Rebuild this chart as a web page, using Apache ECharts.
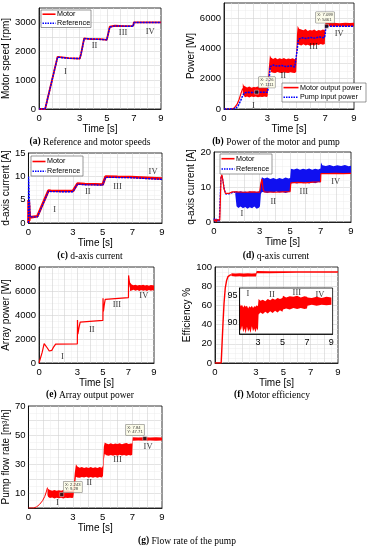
<!DOCTYPE html>
<html><head><meta charset="utf-8">
<script src="https://cdn.jsdelivr.net/npm/echarts@6/dist/echarts.min.js"></script>
<style>html,body{margin:0;padding:0;background:#fff}#c{width:370px;height:550px}</style>
</head><body><div id="c"></div>
<script>
// ---------- data ----------
const xTicks = [0, 3, 5, 7, 9];
// (a) speeds [rpm]
const speedRef = [[0,0],[0.45,0],[1.37,1800],[1.45,1760],[2.2,1755],[3.0,1750],[3.1,1900],[3.33,2440],[3.8,2430],[4.5,2410],[5.0,2400],[5.22,2840],[5.6,2880],[6.3,2870],[6.95,2870],[7.0,3000],[9,3000]];
const speedMotor = [[0,0],[0.45,0],[1.37,1810],[1.45,1750],[2.2,1762],[3.0,1745],[3.1,1910],[3.33,2450],[3.8,2420],[4.5,2422],[5.0,2395],[5.22,2850],[5.6,2885],[6.3,2875],[6.95,2878],[7.0,3005],[9,3005]];
// (b) power [W]
const powerMotorRise = [[0,0],[0.5,0],[0.7,60],[0.9,300],[1.05,650],[1.2,1100],[1.3,1350]];
const powerMotorBand = [[1.30,1000,1700],[1.36,900,1550],[1.45,780,1500],[1.6,820,1420],[1.75,760,1480],[1.9,830,1400],[2.05,790,1460],[2.2,820,1430],[2.35,770,1490],[2.5,810,1420],[2.65,790,1470],[2.8,820,1440],[2.95,800,1460],[3.02,850,1500],
 [3.1,1800,2700],[3.18,2700,3550],[3.25,2450,3400],[3.4,2400,3300],[3.55,2380,3380],[3.7,2450,3280],[3.85,2400,3350],[4.0,2380,3300],[4.15,2430,3360],[4.3,2400,3280],[4.45,2370,3340],[4.6,2420,3300],[4.75,2400,3350],[4.9,2380,3280],[5.0,2450,3350],
 [5.05,3600,4900],[5.1,4300,5500],[5.2,4250,5300],[5.35,4200,5250],[5.5,4280,5200],[5.65,4200,5280],[5.8,4250,5150],[5.95,4180,5220],[6.1,4250,5180],[6.25,4200,5250],[6.4,4280,5150],[6.55,4220,5220],[6.7,4300,5180],[6.85,4250,5250],[6.98,4300,5200],
 [7.02,5420,5720],[7.3,5460,5680],[7.6,5440,5700],[8.0,5460,5670],[8.4,5440,5700],[8.7,5460,5680],[9.0,5450,5690]];
const pumpPower = [[0,0],[0.65,0],[0.85,80],[1.0,250],[1.15,550],[1.3,900],[1.45,1080],[1.7,1100],[2.0,1090],[2.3,1110],[2.6,1100],[3.0,1110],[3.08,1500],[3.2,2800],[3.4,2900],[3.7,2830],[4.0,2870],[4.3,2800],[4.6,2850],[4.9,2780],[5.0,2800],[5.05,3800],[5.15,4600],[5.4,4700],[5.7,4650],[6.0,4720],[6.3,4680],[6.6,4750],[6.95,4700],[7.0,4900],[7.05,5460],[9.0,5460]];
const tipsB = [[2.26,1111],[7.099,5461]];
// (c) d-axis current [A]
const dRef = [[0,0],[0.01,9.9],[0.1,9.9],[0.11,1.3],[0.6,1.3],[1.35,6.8],[1.5,6.75],[2.2,6.7],[3.0,6.7],[3.3,8.3],[3.8,8.2],[4.5,8.15],[5.0,8.1],[5.2,9.8],[6.0,9.75],[6.9,9.7],[7.0,9.4],[9.0,9.35]];
const dMotor = [[0,0],[0.01,4.9],[0.02,0.3],[0.03,4.6],[0.04,0.8],[0.05,3.8],[0.06,0.5],[0.07,2.5],[0.09,1.2],[0.11,1.5],[0.6,1.45],[1.35,6.95],[1.5,6.9],[2.2,6.85],[3.0,6.85],[3.3,8.45],[3.8,8.35],[4.5,8.3],[5.0,8.25],[5.2,9.95],[6.0,9.9],[6.9,9.85],[7.0,9.55],[9.0,9.5]];
// (d) q-axis current [A]
const qMotor = [[0,0.2],[0.08,0.8],[0.15,0.1],[0.22,0.7],[0.3,0.2],[0.38,0.5],[0.42,0.3],[0.46,12.8],[0.52,13.5],[0.58,12],[0.66,9.5],[0.75,8.2],[0.85,7.8],[1.0,8.2],[1.2,8.6],[1.4,8.6],[2.0,8.5],[2.5,8.6],[3.0,8.5],[3.06,10.5],[3.15,12.3],[3.22,9.5],[3.3,8.6],[4.0,8.5],[4.5,8.6],[5.0,8.7],[5.05,11.2],[5.5,11.3],[6.0,11.2],[6.5,11.4],[7.0,11.5],[7.02,13.8],[7.5,13.8],[8.0,13.9],[8.5,13.8],[9.0,13.9]];
const qRefLine = [[0,1.0],[0.06,0.1],[0.12,0.9],[0.2,0.2],[0.28,0.8],[0.35,0.1],[0.42,0.6],[0.45,12.5],[0.52,13.2],[0.6,11.5],[0.68,9.2],[0.78,8.0],[0.9,7.7],[1.05,8.1],[1.25,8.5],[1.4,8.5]];
const qRefBand = [[1.4,7.8,8.7],[1.48,4.5,8.8],[1.6,4.0,8.6],[1.75,4.4,8.8],[1.9,3.9,8.6],[2.05,4.3,8.7],[2.2,3.8,8.5],[2.35,4.2,8.8],[2.5,3.9,8.6],[2.65,4.4,8.7],[2.8,3.8,8.6],[2.95,4.1,8.8],[3.02,4.5,9.0],
 [3.08,8.0,11.5],[3.15,8.6,12.8],[3.3,8.5,12.4],[3.5,8.3,12.7],[3.7,8.6,12.3],[3.9,8.4,12.6],[4.1,8.7,12.2],[4.3,8.4,12.6],[4.5,8.6,12.3],[4.7,8.3,12.7],[4.9,8.6,12.4],[5.0,8.7,12.6],
 [5.05,11.0,15.2],[5.25,11.2,15.0],[5.45,11.0,15.3],[5.65,11.3,14.9],[5.85,11.1,15.2],[6.05,11.3,15.0],[6.25,11.0,15.3],[6.45,11.3,14.9],[6.65,11.1,15.2],[6.85,11.4,15.0],[7.0,11.3,15.3],
 [7.03,13.8,17.0],[7.12,13.8,16.2],[7.35,13.7,16.0],[7.6,13.9,16.3],[7.85,13.7,15.9],[8.1,13.8,16.2],[8.35,13.7,16.0],[8.6,13.9,16.3],[8.85,13.7,15.9],[9.0,13.8,16.1]];
// (e) array power [W]
const arrayPower = [[0,0],[0.12,0],[0.25,900],[0.4,1620],[0.5,1560],[0.65,1250],[0.8,1000],[0.9,950],[1.0,1050],[1.15,1350],[1.3,1580],[1.4,1600],[3.0,1600],[3.01,3580],[3.04,2400],[3.12,2900],[3.22,3400],[3.3,3550],[5.0,3550],[5.01,5400],[5.04,4300],[5.1,4800],[5.18,5300],[5.25,5450],[7.0,5450],[7.01,7300],[7.08,6700],[7.15,6300]];
const arrayBand = [[7.12,6000,6700],[7.25,6050,6550],[7.4,6100,6480],[7.55,6020,6520],[7.7,6080,6450],[7.85,6000,6500],[8.0,6090,6470],[8.15,6030,6530],[8.3,6070,6460],[8.45,6000,6500],[8.6,6080,6440],[8.75,6020,6510],[8.9,6060,6470],[9.0,6040,6480]];
// (f) efficiency [%]
const effRise = [[0,0],[0.45,0],[0.5,15],[0.58,40],[0.66,62],[0.75,78],[0.85,86],[0.95,90],[1.1,91.5],[1.2,92]];
const effBand = [[1.2,90.5,93.5],[1.5,90,93.2],[1.8,90.3,93.5],[2.1,89.8,93.3],[2.4,90.2,93.4],[2.7,90,93.2],[3.0,90.2,93.4],[3.05,93.5,95.8],[4,93.6,95.5],[5,93.8,95.7],[6,93.9,95.6],[7,94,95.7],[8,94,95.6],[9,94,95.7]];
const effInsetBand = [[1.5,89.2,93.6],[1.6,88.6,93.0],[1.7,89.5,93.3],[1.8,88.3,92.8],[1.9,89.0,93.2],[2.0,88.1,92.9],[2.1,89.3,93.1],[2.2,88.4,92.6],[2.3,88.9,93.0],[2.4,88.2,92.8],[2.5,89.4,93.1],[2.6,88.5,92.7],[2.7,89.0,93.0],[2.8,88.3,92.9],[2.9,89.1,93.2],[3.0,88.6,93.0],
 [3.05,91.5,94.3],[3.2,91.9,94.0],[3.4,91.6,94.2],[3.6,92.0,93.9],[3.8,91.7,94.3],[4.0,92.1,94.1],[4.2,91.8,94.4],[4.4,92.2,94.2],[4.6,91.9,94.5],[4.8,92.3,94.3],[5.0,92.0,94.5],
 [5.05,92.4,94.9],[5.3,92.6,94.6],[5.6,92.4,94.8],[5.9,92.7,94.7],[6.2,92.5,94.9],[6.5,92.7,94.6],[6.8,92.5,94.8],[7.0,92.6,94.7],
 [7.05,93.1,94.6],[7.4,93.3,94.5],[7.8,93.1,94.7],[8.2,93.3,94.5],[8.6,93.2,94.7],[9.0,93.3,94.6]];
// (g) flow rate [m3/h]
const flowRise = [[0,0],[0.35,0],[0.55,0.8],[0.75,2.5],[0.95,5],[1.1,8],[1.2,11],[1.28,14]];
const flowBand = [[1.28,9,14],[1.33,7.5,13],[1.45,6.8,12.3],[1.6,7.2,11.8],[1.75,6.6,12.4],[1.9,7.0,11.9],[2.05,6.7,12.2],[2.2,7.1,11.8],[2.35,6.6,12.3],[2.5,7.0,11.9],[2.65,6.8,12.1],[2.8,7.1,11.7],[2.95,6.8,12.0],[3.02,7.2,12.2],
 [3.12,15,24],[3.2,21.5,30],[3.3,21,28.5],[3.45,20.8,27.6],[3.6,21.3,28.2],[3.75,20.9,27.4],[3.9,21.4,28],[4.05,20.8,27.5],[4.2,21.2,28.1],[4.35,20.7,27.4],[4.5,21.3,27.9],[4.65,20.8,27.5],[4.8,21.2,28.2],[4.95,20.9,27.6],[5.02,22,29],
 [5.08,33,42],[5.14,37,45],[5.25,36.2,44.2],[5.4,35.8,43.8],[5.55,36.4,44.4],[5.7,35.9,43.7],[5.85,36.3,44.3],[6.0,35.8,43.9],[6.15,36.5,44.5],[6.3,36.0,43.8],[6.45,36.4,44.2],[6.6,35.9,44.6],[6.75,36.3,43.9],[6.9,36.0,44.3],[6.99,36.5,44.2],
 [7.03,46.2,48.6],[7.4,46.4,48.3],[7.8,46.2,48.5],[8.2,46.4,48.3],[8.6,46.2,48.5],[9.0,46.3,48.4]];
const tipsG = [[2.243,9.28],[7.84,47.71]];
// region annotations (data coordinates)
const romanA = [[1.94,1285,'I'],[4.1,2190,'II'],[6.2,2640,'III'],[8.2,2670,'IV']];
const romanB = [[2.03,200,'I'],[4.1,2170,'II'],[6.2,4140,'III'],[7.97,4980,'IV']];
const romanC = [[1.77,2.8,'I'],[4.0,6.6,'II'],[6.0,7.7,'III'],[8.4,10.9,'IV']];
const romanD = [[1.84,2.3,'I'],[3.9,5.7,'II'],[5.9,8.6,'III'],[8.0,11.4,'IV']];
const romanE = [[1.84,500,'I'],[4.13,2750,'II'],[6.1,4830,'III'],[8.2,5580,'IV']];
const romanF = [[2.18,95.2,'I'],[4.14,95.0,'II'],[6.18,95.4,'III'],[8.06,95.0,'IV']];
const romanG = [[1.95,3.4,'I'],[4.1,17.6,'II'],[6.0,33.2,'III'],[8.06,42,'IV']];
const captions = ['{b|(a)} Reference and motor speeds','{b|(b)} Power of the motor and pump','{b|(c)} d-axis current','{b|(d)} q-axis current','{b|(e)} Array output power','{b|(f)} Motor efficiency','{b|(g)} Flow rate of the pump'];
const legendNamesA = ['Motor', 'Reference'];
const legendNamesB = ['Motor output power', 'Pump input power'];

// ---------- styling / layout ----------
const SANS = "'Liberation Sans',Arial,sans-serif";
const SERIF = "'Liberation Serif','Times New Roman',serif";
const RED = '#ff0000', BLUE = '#0000ff';
const grids = [
  {left:36, top:8, width:125, height:101},
  {left:224, top:3, width:130, height:106},
  {left:25, top:153, width:137, height:70},
  {left:214, top:152, width:137, height:70},
  {left:32, top:267, width:122, height:96},
  {left:215, top:267, width:123, height:96},
  {left:239.6, top:288, width:93, height:46, z:8, backgroundColor:'#fff'},
  {left:28, top:406, width:134, height:102}
].map(g => Object.assign({show:true, borderColor:'#000', borderWidth:0.8, backgroundColor:'transparent', containLabel:false}, g));

function near(v, arr){ return arr.some(t => Math.abs(t - v) < 1e-6); }
function xAx(gi, extra){
  return Object.assign({
    type:'value', gridIndex:gi, min:0, max:9, interval:1,
    axisLine:{show:true, onZero:false, lineStyle:{color:'#000', width:0.8}},
    axisTick:{show:false},
    axisLabel:{fontSize:9.5, color:'#000', fontFamily:SANS, margin:4, showMinLabel:true, showMaxLabel:true,
      formatter: v => near(v, xTicks) ? String(Math.round(v)) : ''},
    splitLine:{show:true, showMinLine:false, showMaxLine:false, lineStyle:{color:'#d2d2d2', width:0.6}},
    minorTick:{show:false, splitNumber:2},
    minorSplitLine:{show:true, lineStyle:{color:'#ececec', width:0.5}},
    name:'Time [s]', nameLocation:'middle', nameGap:13,
    nameTextStyle:{fontSize:10, color:'#000', fontFamily:SANS}
  }, extra || {});
}
function yAx(gi, min, max, interval, name, gap, labels, minorN, extra){
  return Object.assign({
    type:'value', gridIndex:gi, min, max, interval,
    axisLine:{show:true, onZero:false, lineStyle:{color:'#000', width:0.8}},
    axisTick:{show:false},
    axisLabel:{fontSize:9.5, color:'#000', fontFamily:SANS, margin:3, showMinLabel:true, showMaxLabel:true,
      formatter: v => near(v, labels) ? String(Math.round(v)) : ''},
    splitLine:{show:true, showMinLine:false, showMaxLine:false, lineStyle:{color:'#d2d2d2', width:0.6}},
    minorTick:{show:false, splitNumber:minorN},
    minorSplitLine:{show:true, lineStyle:{color:'#ececec', width:0.5}},
    name, nameLocation:'middle', nameGap:gap, nameRotate:90,
    nameTextStyle:{fontSize:10, color:'#000', fontFamily:SANS}
  }, extra || {});
}
const xAxes = [0,1,2,3,4,5,6,7].map(i => i === 6 ?
  xAx(6, {min:1.5, max:9.1, interval:0.5, name:'', z:10, splitLine:{show:false}, minorSplitLine:{show:false},
    axisLabel:{fontSize:9, color:'#000', fontFamily:SANS, margin:4, formatter: v => near(v,[3,5,7,9]) ? String(Math.round(v)) : ''}}) : xAx(i));
const yAxes = [
  yAx(0, 0, 3500, 500, 'Motor speed [rpm]', 23, [0,1000,2000,3000], 2),
  yAx(1, 0, 7000, 1000, 'Power [W]', 24, [0,2000,4000,6000], 2),
  yAx(2, 0, 15, 5, 'd-axis current [A]', 14, [0,5,10,15], 5),
  yAx(3, 0, 20, 10, 'q-axis current [A]', 18, [0,10,20], 5),
  yAx(4, 0, 8000, 2000, 'Array power [W]', 20, [0,2000,4000,6000,8000], 4),
  yAx(5, 0, 100, 20, 'Efficiency %', 16, [0,20,40,60,80,100], 4),
  yAx(6, 88, 96.3, 1, '', 0, [90,95], 1, {z:10, splitLine:{show:false}, minorSplitLine:{show:false},
    axisLabel:{fontSize:9, color:'#000', fontFamily:SANS, margin:2, formatter: v => near(v,[90,95]) ? String(Math.round(v)) : ''}}),
  yAx(7, 0, 70, 10, 'Pump flow rate [m³/h]', 13, [10,30,50,70], 2)
];

function lineS(name, data, gi, color, width, dash, z){
  return {type:'line', name, data, xAxisIndex:gi, yAxisIndex:gi, symbol:'none', showSymbol:false,
    lineStyle:{color, width, type: dash || 'solid'}, itemStyle:{color}, z: z || 2, silent:true};
}
function bandS(name, band, gi, color, z){
  return {type:'custom', name, xAxisIndex:gi, yAxisIndex:gi, z: z || 2, silent:true,
    data: band, encode:{x:0, y:[1,2]},
    renderItem: function(params, api){
      if (params.dataIndex !== 0) return null;
      const up = band.map(p => api.coord([p[0], p[2]]));
      const lo = band.slice().reverse().map(p => api.coord([p[0], p[1]]));
      return {type:'polygon', shape:{points: up.concat(lo)}, style:{fill: color}};
    }};
}
function romanS(data, gi, z){
  return {type:'scatter', xAxisIndex:gi, yAxisIndex:gi, data, symbolSize:1, itemStyle:{color:'rgba(0,0,0,0)'}, z: z || 6, silent:true,
    label:{show:true, position:'inside', formatter: p => p.data[2], fontFamily:SERIF, fontSize:8.5, color:'#000'}};
}
function tipS(data, offs, gi){
  return {type:'scatter', xAxisIndex:gi, yAxisIndex:gi, symbol:'rect', symbolSize:4, z:7, silent:true,
    itemStyle:{color:'#111', borderColor:'#fff', borderWidth:0.5},
    data: data.map((d, i) => ({value:d, label:{position: offs[i]}})),
    label:{show:true, formatter: p => 'X: ' + p.value[0] + '\nY: ' + p.value[1],
      fontFamily:SANS, fontSize:4.2, lineHeight:4.6, color:'#000', backgroundColor:'#fdfde6',
      borderColor:'#666', borderWidth:0.5, padding:[0.8,1.5]}};
}

const series = [
  // (a)
  lineS('Motor', speedMotor, 0, RED, 1.8),
  lineS('Reference', speedRef, 0, BLUE, 1.4, [2,1], 3),
  romanS(romanA, 0),
  // (b)
  lineS('Motor output power', powerMotorRise, 1, RED, 1.2),
  bandS('bBand', powerMotorBand, 1, RED),
  lineS('Pump input power', pumpPower, 1, BLUE, 1.5, [2,1], 3),
  romanS(romanB, 1), tipS(tipsB, [[4.4,-13],[-8.5,-12]], 1),
  // (c)
  lineS('Motor', dMotor, 2, RED, 2.6),
  lineS('Reference', dRef, 2, BLUE, 1.3, [2,1], 3),
  romanS(romanC, 2),
  // (d)
  lineS('Reference', qRefLine, 3, BLUE, 1.3, [2,1], 2),
  bandS('qBand', qRefBand, 3, '#1010f0', 2),
  lineS('Motor', qMotor, 3, RED, 1.2, null, 3),
  romanS(romanD, 3),
  // (e)
  lineS('ArrayP', arrayPower, 4, RED, 1.2),
  bandS('eBand', arrayBand, 4, RED),
  romanS(romanE, 4),
  // (f)
  lineS('Eff', effRise, 5, RED, 1.4),
  bandS('fBand', effBand, 5, RED),
  bandS('fInset', effInsetBand, 6, RED, 10),
  romanS(romanF, 6, 11),
  // (g)
  lineS('Flow', flowRise, 7, RED, 1),
  bandS('gBand', flowBand, 7, RED),
  romanS(romanG, 7), tipS(tipsG, [[4,-10.6],[-16.7,-11.7]], 7)
];

// legends drawn as boxes: [left, top, width, height, rowY1, rowY2, lineLen, fontSize, names]
const legendBoxes = [
  [41, 10, 50, 17.5, 14.2, 23.2, 13, 7.2, legendNamesA],
  [282, 83, 84, 19, 87.6, 97.2, 15, 7.2, legendNamesB],
  [31, 156, 52, 20, 161.5, 171.3, 13, 7.2, legendNamesA],
  [220, 154, 52, 20, 158.7, 169.0, 13, 7.2, legendNamesA]
];
const legendGraphics = [];
legendBoxes.forEach(b => {
  const [l, t, w, h, r1, r2, ll, fs, names] = b;
  legendGraphics.push({type:'rect', z:40, shape:{x:l, y:t, width:w, height:h}, style:{fill:'#fff', stroke:'#555', lineWidth:0.6}});
  legendGraphics.push({type:'line', z:41, shape:{x1:l+1.5, y1:r1, x2:l+1.5+ll, y2:r1}, style:{stroke:RED, lineWidth:1.6}});
  legendGraphics.push({type:'line', z:41, shape:{x1:l+1.5, y1:r2, x2:l+1.5+ll, y2:r2}, style:{stroke:BLUE, lineWidth:1.5, lineDash:[1.5,1]}});
  legendGraphics.push({type:'text', z:41, x:l+ll+3, y:r1, style:{text:names[0], fontFamily:SANS, fontSize:fs, fill:'#000', verticalAlign:'middle', align:'left'}});
  legendGraphics.push({type:'text', z:41, x:l+ll+3, y:r2, style:{text:names[1], fontFamily:SANS, fontSize:fs, fill:'#000', verticalAlign:'middle', align:'left'}});
});

const capPos = [[90,142],[276,142],[90,256],[276,256],[90,395],[272,395],[187,541]];
const graphic = captions.map((t, i) => ({type:'text', x:capPos[i][0], y:capPos[i][1], z:50,
  style:{text:t, align:'center', verticalAlign:'middle', fontFamily:SERIF, fontSize:9.5, fill:'#000',
    rich:{b:{fontFamily:SERIF, fontSize:9.5, fontWeight:'bold', fill:'#000'}}}})).concat(legendGraphics);

const chart = echarts.init(document.getElementById('c'), null, {renderer:'canvas'});
chart.setOption({animation:false, backgroundColor:'#fff', grid:grids, xAxis:xAxes, yAxis:yAxes, series, graphic});
</script></body></html>
